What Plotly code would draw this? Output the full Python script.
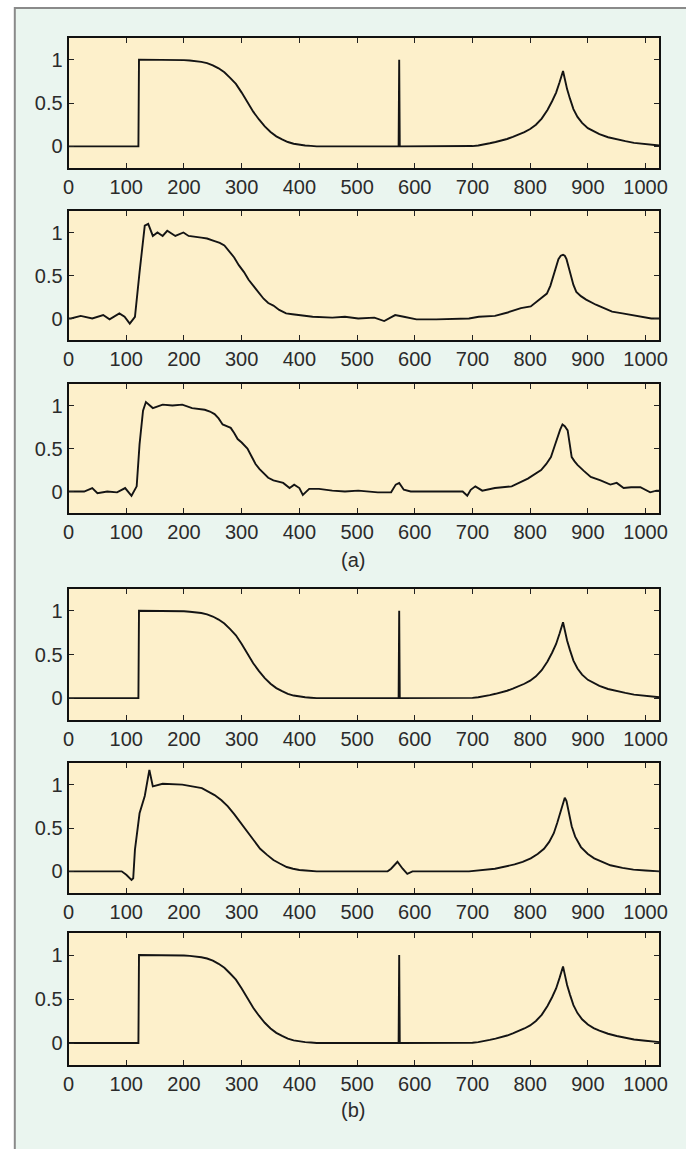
import plotly.graph_objects as go

# ---------------- data ----------------
x_ticks = [0, 100, 200, 300, 400, 500, 600, 700, 800, 900, 1000]
y_ticks = [0, 0.5, 1]
y_tick_text = ["0", "0.5", "1"]

# original signal (panels 1, 4, 6)
orig_x = [0, 121, 122, 150, 180, 200, 210, 220, 230, 240, 250, 260, 270, 280, 290, 300,
          310, 320, 330, 340, 350, 360, 370, 380, 390, 400, 410, 420, 430,
          572, 573, 574, 690, 700, 710, 720, 730, 740, 750, 760, 770, 780, 790, 800, 810,
          820, 830, 838, 845, 851, 857, 860, 864, 869, 875, 882, 890, 900, 910, 920, 935,
          950, 965, 980, 1000, 1024]
orig_y = [0, 0, 1, 1, 1, 0.995, 0.99, 0.985, 0.975, 0.96, 0.935, 0.90, 0.855, 0.79, 0.72,
          0.62, 0.51, 0.40, 0.31, 0.23, 0.165, 0.115, 0.08, 0.05, 0.03, 0.018, 0.01, 0.005, 0,
          0, 1, 0, 0, 0.003, 0.01, 0.02, 0.035, 0.05, 0.065, 0.085, 0.11, 0.135, 0.165, 0.20,
          0.25, 0.32, 0.42, 0.52, 0.62, 0.74, 0.87, 0.78, 0.66, 0.55, 0.43, 0.34, 0.27, 0.21,
          0.17, 0.14, 0.105, 0.08, 0.06, 0.04, 0.025, 0.01]

# (a) second panel
a2_x = [0, 4, 21, 41, 60, 71, 88, 97, 106, 115, 123, 132, 138, 146, 154, 163, 171, 185,
        199, 208, 230, 240, 253, 262, 270, 278, 287, 295, 304, 312, 321, 330, 338, 346,
        355, 365, 377, 388, 400, 423, 457, 479, 502, 530, 547, 566, 581, 603, 637, 694,
        711, 739, 761, 784, 801, 810, 818, 825, 829, 835, 841, 845, 849, 853, 857, 860,
        863, 867, 871, 875, 880, 888, 897, 905, 914, 928, 942, 960, 976, 993, 1010, 1024]
a2_y = [0, 0, 0.03, 0, 0.04, -0.01, 0.06, 0.02, -0.06, 0.02, 0.54, 1.08, 1.10, 0.96, 1.0,
        0.96, 1.02, 0.96, 1.0, 0.96, 0.94, 0.93, 0.90, 0.88, 0.85, 0.79, 0.71, 0.62, 0.54,
        0.45, 0.37, 0.29, 0.23, 0.18, 0.15, 0.10, 0.06, 0.05, 0.04, 0.02, 0.01, 0.02, 0,
        0.01, -0.03, 0.04, 0.02, -0.01, -0.01, 0, 0.02, 0.03, 0.07, 0.12, 0.14, 0.19, 0.24,
        0.27, 0.29, 0.38, 0.51, 0.62, 0.69, 0.73, 0.74, 0.73, 0.69, 0.59, 0.49, 0.39, 0.31,
        0.26, 0.22, 0.19, 0.16, 0.12, 0.08, 0.06, 0.04, 0.02, 0, 0]

# (a) third panel
a3_x = [0, 4, 27, 41, 50, 67, 84, 98, 109, 118, 123, 129, 134, 146, 163, 180, 197, 214,
        236, 245, 253, 260, 267, 274, 281, 287, 293, 300, 310, 317, 324, 331, 338, 346,
        355, 363, 372, 383, 391, 400, 406, 417, 434, 457, 479, 502, 536, 559, 567, 573,
        581, 593, 638, 683, 691, 697, 705, 717, 739, 768, 796, 808, 819, 828, 836, 842,
        847, 852, 856, 860, 865, 869, 872, 877, 882, 893, 905, 922, 939, 950, 962, 975,
        991, 1008, 1019, 1024]
a3_y = [0, 0, 0, 0.04, -0.02, 0, -0.01, 0.04, -0.05, 0.06, 0.55, 0.94, 1.04, 0.97, 1.01,
        1.0, 1.01, 0.97, 0.95, 0.93, 0.90, 0.85, 0.78, 0.76, 0.74, 0.68, 0.61, 0.57, 0.50,
        0.41, 0.32, 0.26, 0.21, 0.16, 0.13, 0.12, 0.10, 0.04, 0.08, 0.04, -0.04, 0.03, 0.03,
        0.01, 0, 0.01, -0.01, -0.01, 0.08, 0.10, 0.02, 0, 0, 0, -0.05, 0.02, 0.06, 0.01,
        0.04, 0.06, 0.15, 0.20, 0.25, 0.32, 0.40, 0.52, 0.63, 0.72, 0.78, 0.76, 0.71, 0.55,
        0.40, 0.35, 0.31, 0.24, 0.17, 0.13, 0.08, 0.10, 0.04, 0.05, 0.05, -0.01, 0.01, 0.01]

# (b) second panel
b2_x = [0, 33, 92, 100, 109, 112, 115, 123, 132, 140, 146, 163, 197, 231, 242, 253, 265,
        276, 287, 298, 310, 321, 332, 344, 355, 366, 378, 389, 400, 411, 430, 468, 553,
        559, 570, 579, 587, 596, 694, 739, 760, 773, 787, 801, 813, 824, 833, 841, 847,
        853, 857, 860, 863, 866, 869, 872, 878, 888, 900, 911, 925, 939, 960, 979, 1000,
        1024]
b2_y = [0, 0, 0, -0.04, -0.10, -0.08, 0.25, 0.67, 0.87, 1.17, 0.98, 1.01, 1.0, 0.96, 0.92,
        0.88, 0.82, 0.75, 0.66, 0.56, 0.45, 0.35, 0.26, 0.19, 0.13, 0.09, 0.05, 0.03, 0.015,
        0.01, 0, 0, 0, 0.03, 0.11, 0.03, -0.03, 0, 0, 0.03, 0.06, 0.08, 0.11, 0.15, 0.20,
        0.26, 0.34, 0.44, 0.56, 0.69, 0.78, 0.85, 0.81, 0.72, 0.60, 0.52, 0.40, 0.28, 0.20,
        0.15, 0.11, 0.07, 0.04, 0.02, 0.01, 0]

panel_labels = ["(a)", "(b)"]

# ---------------- layout ----------------
W, H = 686, 1149
panels = [(38, 168), (211, 340), (384, 513), (589, 720), (763, 893), (933, 1065)]
series = [(orig_x, orig_y), (a2_x, a2_y), (a3_x, a3_y),
          (orig_x, orig_y), (b2_x, b2_y), (orig_x, orig_y)]

FONT = dict(family="Liberation Sans, Arial, sans-serif", size=20, color="#2b2b2b")

fig = go.Figure()
layout = dict(
    height=H,
    autosize=True,
    margin=dict(l=0, r=0, t=0, b=0),
    paper_bgcolor="#EAF5EF",
    plot_bgcolor="#FDF0CB",
    showlegend=False,
    font=FONT,
)

for i, ((top, bot), (sx, sy)) in enumerate(zip(panels, series)):
    sfx = "" if i == 0 else str(i + 1)
    fig.add_trace(go.Scatter(
        x=sx, y=sy, mode="lines",
        line=dict(color="#141414", width=1.9),
        xaxis="x" + sfx, yaxis="y" + sfx, hoverinfo="skip",
    ))
    layout["xaxis" + sfx] = dict(
        domain=[64 / W, 668 / W], range=[0, 1024], anchor="y" + sfx,
        tickvals=x_ticks, ticks="inside", ticklen=5, tickcolor="#222",
        showline=True, mirror="ticks", linecolor="#111", linewidth=2,
        showgrid=False, zeroline=False, tickfont=FONT,
    )
    layout["yaxis" + sfx] = dict(
        domain=[1 - bot / H, 1 - top / H], range=[-0.25, 1.25], anchor="x" + sfx,
        tickvals=y_ticks, ticktext=y_tick_text, ticks="inside", ticklen=5,
        tickcolor="#222", showline=True, mirror="ticks", linecolor="#111",
        linewidth=2, showgrid=False, zeroline=False, tickfont=FONT,
    )

layout["shapes"] = [
    dict(type="rect", xref="paper", yref="paper", x0=-0.05, x1=9 / W, y0=-0.05, y1=1.05,
         line=dict(width=0), fillcolor="white", layer="below"),
    dict(type="rect", xref="paper", yref="paper", x0=-0.05, x1=1.05, y0=1 - 8 / H, y1=1.05,
         line=dict(width=0), fillcolor="white", layer="below"),
    dict(type="rect", xref="paper", yref="paper", x0=9 / W, x1=1.05, y0=-0.05, y1=1 - 8 / H,
         line=dict(color="#8a8a8a", width=2), fillcolor="rgba(0,0,0,0)", layer="below"),
]
layout["annotations"] = [
    dict(text=panel_labels[0], x=355 / W, y=1 - 560 / H, xref="paper", yref="paper",
         xanchor="center", yanchor="middle", showarrow=False,
         font=dict(family=FONT["family"], size=20, color="#2b2b2b")),
    dict(text=panel_labels[1], x=355 / W, y=1 - 1110 / H, xref="paper", yref="paper",
         xanchor="center", yanchor="middle", showarrow=False,
         font=dict(family=FONT["family"], size=20, color="#2b2b2b")),
]

fig.update_layout(**layout)
fig.write_html(
    "out.html",
    config={"displayModeBar": False, "responsive": True},
    default_width="100%",
    post_script=(
        "document.documentElement.style.margin='0';"
        "document.body.style.margin='0';"
        "document.body.style.overflow='hidden';"
        "Plotly.Plots.resize(document.getElementById('{plot_id}'));"
    ),
)
